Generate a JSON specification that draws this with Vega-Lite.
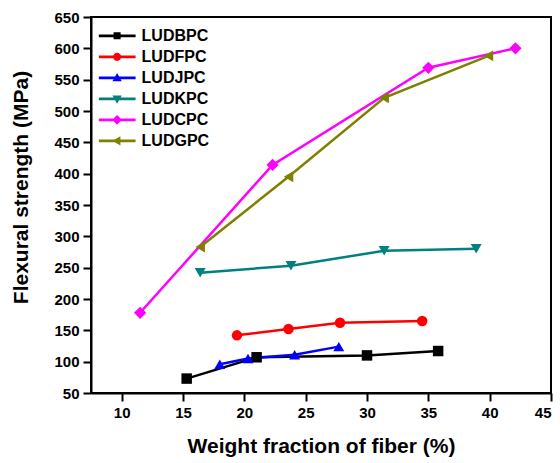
{
  "$schema": "https://vega.github.io/schema/vega-lite/v6.json",
  "width": 460,
  "height": 376,
  "autosize": "none",
  "padding": {"left": 91, "top": 17, "right": 9, "bottom": 70},
  "background": "white",
  "config": {
    "view": {"stroke": "black", "strokeWidth": 2},
    "axis": {
      "grid": false,
      "domainColor": "black",
      "domainWidth": 2,
      "tickColor": "black",
      "tickWidth": 2,
      "tickSize": 8,
      "labelFont": "Liberation Sans",
      "labelFontWeight": "bold",
      "labelFontSize": 15,
      "labelColor": "black",
      "labelPadding": 4,
      "titleFont": "Liberation Sans",
      "titleFontWeight": "bold",
      "titleFontSize": 21,
      "titleColor": "black"
    }
  },
  "data": {
    "values": [
      {"series": "LUDBPC", "fraction": 15.3, "strength": 73},
      {"series": "LUDBPC", "fraction": 21.0, "strength": 107},
      {"series": "LUDBPC", "fraction": 30.0, "strength": 110},
      {"series": "LUDBPC", "fraction": 35.8, "strength": 117},
      {"series": "LUDFPC", "fraction": 19.4, "strength": 142},
      {"series": "LUDFPC", "fraction": 23.6, "strength": 152},
      {"series": "LUDFPC", "fraction": 27.8, "strength": 162},
      {"series": "LUDFPC", "fraction": 34.5, "strength": 165},
      {"series": "LUDJPC", "fraction": 18.0, "strength": 96},
      {"series": "LUDJPC", "fraction": 20.3, "strength": 105},
      {"series": "LUDJPC", "fraction": 24.1, "strength": 111},
      {"series": "LUDJPC", "fraction": 27.7, "strength": 124},
      {"series": "LUDKPC", "fraction": 16.4, "strength": 242},
      {"series": "LUDKPC", "fraction": 23.8, "strength": 253},
      {"series": "LUDKPC", "fraction": 31.4, "strength": 277},
      {"series": "LUDKPC", "fraction": 38.9, "strength": 280},
      {"series": "LUDCPC", "fraction": 11.5, "strength": 178},
      {"series": "LUDCPC", "fraction": 22.3, "strength": 414},
      {"series": "LUDCPC", "fraction": 35.0, "strength": 569},
      {"series": "LUDCPC", "fraction": 42.1, "strength": 600},
      {"series": "LUDGPC", "fraction": 16.4, "strength": 283},
      {"series": "LUDGPC", "fraction": 23.6, "strength": 395},
      {"series": "LUDGPC", "fraction": 31.4, "strength": 521},
      {"series": "LUDGPC", "fraction": 39.9, "strength": 588}
    ]
  },
  "encoding": {
    "x": {
      "field": "fraction",
      "type": "quantitative",
      "scale": {"domain": [7.5, 45], "nice": false, "zero": false},
      "axis": {"values": [10, 15, 20, 25, 30, 35, 40, 45], "title": "Weight fraction of fiber (%)", "titlePadding": 15}
    },
    "y": {
      "field": "strength",
      "type": "quantitative",
      "scale": {"domain": [50, 650], "nice": false, "zero": false},
      "axis": {"values": [50, 100, 150, 200, 250, 300, 350, 400, 450, 500, 550, 600, 650], "title": "Flexural strength (MPa)", "titleX": -70, "titleY": 170, "titleAlign": "center", "titleBaseline": "middle", "titleAngle": -90}
    },
    "color": {
      "field": "series",
      "type": "nominal",
      "scale": {
        "domain": ["LUDBPC", "LUDFPC", "LUDJPC", "LUDKPC", "LUDCPC", "LUDGPC"],
        "range": ["#000000", "#FF0000", "#0000FF", "#008080", "#FF00FF", "#808000"]
      },
      "legend": {
        "orient": "none",
        "legendX": 7.6,
        "legendY": 9.5,
        "title": null,
        "padding": 0,
        "symbolSize": 1369,
        "symbolStrokeWidth": 0,
        "clipHeight": 18.7,
        "rowPadding": 2,
        "labelOffset": 6,
        "labelFont": "Liberation Sans",
        "labelFontWeight": "bold",
        "labelFontSize": 16,
        "labelColor": "black",
        "encode": {
          "symbols": {
            "update": {
              "fill": {"scale": "color", "field": "value"},
              "fillOpacity": {"value": 1},
              "strokeWidth": {"value": 0},
              "shape": {"signal": "datum.value === 'LUDBPC' ? 'M-1,-0.07L1,-0.07L1,0.07L-1,0.07Z M-0.19,-0.19L0.19,-0.19L0.19,0.19L-0.19,0.19Z' : datum.value === 'LUDFPC' ? 'M-1,-0.07L1,-0.07L1,0.07L-1,0.07Z M0.22,0A0.22,0.22 0 1,1 -0.22,0A0.22,0.22 0 1,1 0.22,0Z' : datum.value === 'LUDJPC' ? 'M-1,-0.07L1,-0.07L1,0.07L-1,0.07Z M0,-0.26L0.25,0.18L-0.25,0.18Z' : datum.value === 'LUDKPC' ? 'M-1,-0.07L1,-0.07L1,0.07L-1,0.07Z M-0.25,-0.18L0.25,-0.18L0,0.26Z' : datum.value === 'LUDCPC' ? 'M-1,-0.07L1,-0.07L1,0.07L-1,0.07Z M0,-0.26L0.26,0L0,0.26L-0.26,0Z' : 'M-1,-0.07L1,-0.07L1,0.07L-1,0.07Z M-0.26,0L0.18,-0.25L0.18,0.25Z'"}
            }
          }
        }
      }
    }
  },
  "layer": [
    {
      "mark": {"type": "line", "strokeWidth": 2.5}
    },
    {
      "transform": [{"filter": "datum.series === 'LUDBPC'"}],
      "mark": {"type": "point", "shape": "square", "filled": true, "opacity": 1, "size": 110}
    },
    {
      "transform": [{"filter": "datum.series === 'LUDFPC'"}],
      "mark": {"type": "point", "shape": "circle", "filled": true, "opacity": 1, "size": 110}
    },
    {
      "transform": [{"filter": "datum.series === 'LUDJPC'"}],
      "mark": {"type": "point", "shape": "triangle-up", "filled": true, "opacity": 1, "size": 120}
    },
    {
      "transform": [{"filter": "datum.series === 'LUDKPC'"}],
      "mark": {"type": "point", "shape": "triangle-down", "filled": true, "opacity": 1, "size": 120}
    },
    {
      "transform": [{"filter": "datum.series === 'LUDCPC'"}],
      "mark": {"type": "point", "shape": "diamond", "filled": true, "opacity": 1, "size": 150}
    },
    {
      "transform": [{"filter": "datum.series === 'LUDGPC'"}],
      "mark": {"type": "point", "shape": "triangle-left", "filled": true, "opacity": 1, "size": 120}
    }
  ]
}
